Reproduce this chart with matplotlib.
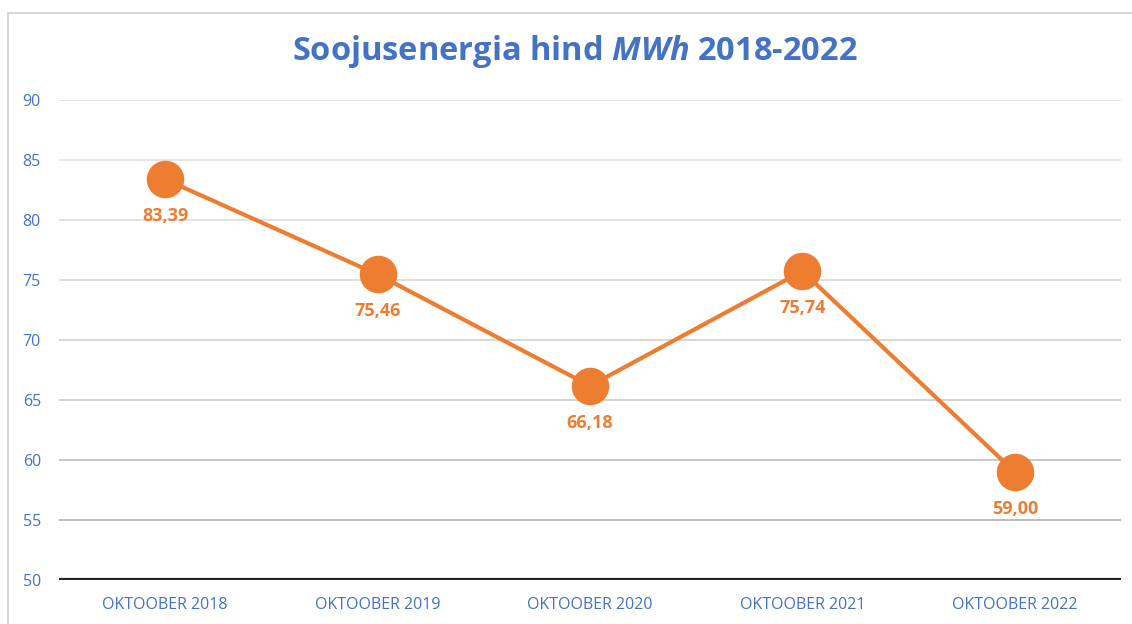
import matplotlib.pyplot as plt
from matplotlib.patches import Rectangle

# values
months = ['OKTOOBER 2018', 'OKTOOBER 2019', 'OKTOOBER 2020', 'OKTOOBER 2021', 'OKTOOBER 2022']
price = [83.39, 75.46, 66.18, 75.74, 59.00]
y_ticks = [50, 55, 60, 65, 70, 75, 80, 85, 90]

blue = '#4472C4'
orange = '#ED7D31'
plt.rcParams['font.family'] = ['Open Sans', 'DejaVu Sans']
plt.rcParams['mathtext.fontset'] = 'custom'
plt.rcParams['mathtext.it'] = 'Open Sans:italic:bold'

fig = plt.figure(figsize=(11.32, 6.24), dpi=100)
ax = fig.add_axes([59 / 1132, 1 - 580 / 624, 1062 / 1132, 480 / 624])

# thin gray frame around the chart area (cut off at right/bottom like the screenshot)
fig.patches.append(Rectangle((8 / 1132, -0.05), 1.1, 1 - 13 / 624 + 0.05,
                             transform=fig.transFigure, fill=False,
                             edgecolor='#D0D0D0', linewidth=1.2))

x = range(len(months))
ax.set_xlim(-0.5, len(months) - 0.5)
ax.set_ylim(50, 90)

# gridlines, a bit darker toward the bottom as in the picture
grid_cols = ['#E4E4E4', '#E4E4E4', '#E0E0E0', '#DCDCDC', '#D6D6D6', '#CFCFCF', '#C4C4C4', '#B8B8B8']
for val, c in zip(y_ticks[1:][::-1], grid_cols):
    ax.axhline(val, color=c, linewidth=1.3, zorder=1)
ax.axhline(50, color='#222222', linewidth=3, zorder=2)

ax.plot(x, price, color=orange, linewidth=3, marker='o', markersize=26,
        zorder=3, clip_on=False)

for i, v in zip(x, price):
    ax.annotate(f'{v:.2f}'.replace('.', ','), (i, v), xytext=(0, -37),
                textcoords='offset pixels', ha='center', va='center',
                color=orange, fontsize=13, fontweight='bold')

for s in ax.spines.values():
    s.set_visible(False)
ax.set_yticks(y_ticks)
ax.set_xticks(list(x))
ax.set_xticklabels(months)
ax.tick_params(axis='both', length=0, colors=blue, labelsize=11.5)
ax.tick_params(axis='y', pad=13)
ax.tick_params(axis='x', pad=12)

fig.text(575 / 1132, 1 - 52 / 624, 'Soojusenergia hind $MWh$ 2018-2022',
         ha='center', va='center', color=blue, fontsize=23.5, fontweight='bold')

fig.savefig('out.png', dpi=100)
